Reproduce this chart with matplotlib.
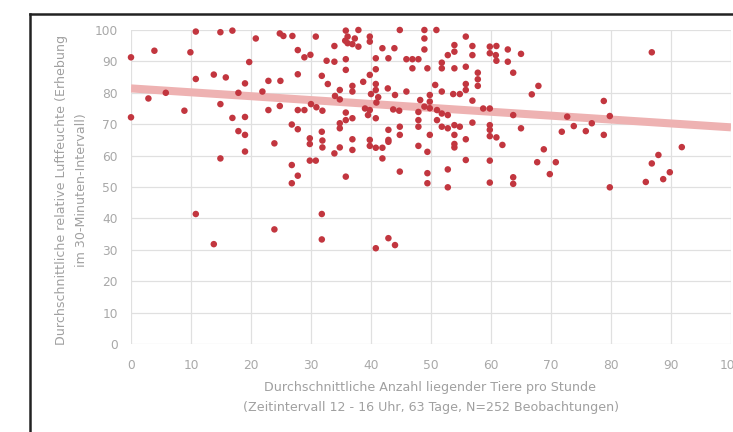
import matplotlib
matplotlib.use("Agg")
import matplotlib.pyplot as plt
from matplotlib.lines import Line2D

# ---- data ----
animals = [
    10.8, 14.9, 16.9, 3.9, 9.9, 0.0, 19.7, 10.8, 13.8, 15.8, 19.0, 2.9, 5.8, 17.9, 8.9, 14.9, 0.0,
    16.9, 19.0, 17.9, 19.0, 19.0, 14.9, 10.8, 13.8,
    20.8, 24.8, 25.4, 26.9, 30.8, 27.8, 28.9, 29.9, 32.6,
    22.9, 24.9, 27.8, 31.8, 32.8,
    21.9, 22.9, 24.8, 27.8, 28.9, 30.0, 30.9, 31.9,
    26.8, 27.8, 31.8, 29.8, 29.8, 31.9, 31.9, 23.9,
    29.8, 30.8, 26.8, 27.8, 26.8, 31.8, 23.9, 31.8,
    35.8, 37.9, 44.8, 48.9,
    36.1, 37.3, 36.1, 36.9, 37.9, 35.7,
    39.8, 39.8, 33.9, 41.9, 43.9, 48.9, 48.9,
    33.9, 35.8, 35.8, 40.8, 42.9, 45.9, 46.9, 47.9, 46.9, 49.4,
    40.8, 39.8, 38.7,
    36.9, 36.9, 40.8, 40.8, 42.8, 44.0, 45.9,
    34.8, 34.0, 34.8, 40.0, 41.2, 40.9, 48.2, 48.9,
    39.0, 39.8, 39.5, 40.8, 43.7, 44.7,
    35.8, 36.9, 35.8, 34.8, 34.8,
    47.9, 47.9, 47.9, 44.8, 44.8, 42.9, 42.9,
    36.9, 36.9,
    39.8, 39.8, 40.8, 41.9, 42.9,
    34.8, 33.9, 47.9, 41.9, 49.4, 44.8, 35.8, 49.4, 49.4,
    42.9, 44.0, 40.8,
    50.9, 55.8,
    53.9, 53.9, 52.8, 56.9, 56.9,
    59.8, 60.9, 62.8, 65.0, 59.8, 60.9, 62.8, 63.7, 60.8,
    51.8, 51.8, 53.9, 55.8,
    57.8, 57.8, 57.8, 50.7, 51.8,
    55.8, 55.8, 54.8, 53.7,
    49.8, 49.8, 49.8, 56.9,
    51.0, 51.8, 52.8, 58.7, 59.8, 63.7,
    51.0, 51.8, 52.8, 53.9, 54.8, 56.9, 59.8, 59.8, 65.0,
    49.8, 53.9, 53.9, 53.9, 55.8, 59.8, 60.9, 61.9,
    55.8, 59.8, 52.8, 52.8, 59.8, 63.7, 63.7,
    67.9, 66.8, 72.7, 73.8, 71.8, 75.8, 76.8, 78.8, 79.8, 78.8,
    68.8, 67.7, 70.8, 69.8, 79.8, 86.8, 91.8, 87.9, 86.8, 89.8, 88.7, 85.8,
]
humidity = [
    99.5, 99.3, 99.8, 93.4, 92.9, 91.3, 89.8, 84.4, 85.8, 84.9, 83.0, 78.2, 80.0, 80.0, 74.3, 76.4, 72.2,
    72.0, 72.3, 67.8, 66.6, 61.3, 59.1, 41.4, 31.8,
    97.3, 98.9, 98.1, 98.1, 97.9, 93.6, 91.3, 92.1, 90.2,
    83.8, 83.8, 85.9, 85.4, 82.8,
    80.4, 74.5, 75.8, 74.5, 74.5, 76.4, 75.4, 74.3,
    69.9, 68.4, 67.6, 65.5, 63.7, 64.8, 62.6, 63.9,
    58.4, 58.4, 57.0, 53.6, 51.2, 41.4, 36.5, 33.3,
    99.8, 100.0, 100.0, 100.0,
    97.9, 97.3, 95.8, 95.5, 94.7, 96.6,
    97.9, 96.3, 94.9, 94.2, 94.2, 97.3, 93.8,
    89.9, 90.7, 87.3, 91.0, 91.0, 90.7, 90.7, 90.7, 87.8, 87.8,
    87.5, 85.7, 83.5,
    82.2, 80.4, 82.8, 80.9, 81.4, 79.3, 80.4,
    80.9, 79.0, 77.9, 79.6, 78.6, 76.9, 77.7, 75.6,
    75.0, 74.5, 72.9, 71.9, 74.7, 74.3,
    73.7, 71.9, 71.3, 70.3, 68.7,
    73.9, 71.3, 69.2, 69.2, 66.6, 68.2, 65.0,
    65.2, 61.8,
    65.0, 63.1, 62.5, 62.5, 64.4,
    62.6, 60.7, 63.1, 59.1, 61.2, 54.9, 53.3, 54.4, 51.2,
    33.7, 31.5, 30.5,
    100.0, 97.9,
    95.2, 93.1, 92.0, 94.9, 92.0,
    94.7, 94.9, 93.8, 92.4, 92.6, 90.2, 89.9, 86.4, 92.0,
    89.6, 87.8, 87.8, 88.3,
    86.4, 84.3, 82.2, 82.5, 80.4,
    82.8, 80.9, 79.6, 79.6,
    79.3, 77.2, 75.1, 77.5,
    74.5, 73.4, 72.9, 75.0, 75.0, 72.9,
    71.3, 69.2, 68.7, 69.7, 69.2, 70.5, 69.7, 68.2, 68.7,
    66.6, 66.6, 63.7, 62.6, 65.2, 66.2, 65.8, 63.4,
    58.6, 58.4, 55.6, 49.9, 51.4, 53.1, 51.0,
    82.2, 79.5, 72.4, 69.4, 67.6, 67.8, 70.3, 77.4, 72.6, 66.6,
    62.0, 57.9, 57.9, 54.1, 49.9, 92.9, 62.7, 60.2, 57.5, 54.7, 52.5, 51.6,
]
trend_x = [0, 100]
trend_y = [81.4, 69.0]
x_ticks = [0, 10, 20, 30, 40, 50, 60, 70, 80, 90, 100]
y_ticks = [0, 10, 20, 30, 40, 50, 60, 70, 80, 90, 100]
xlabel_lines = ["Durchschnittliche Anzahl liegender Tiere pro Stunde",
                "(Zeitintervall 12 - 16 Uhr, 63 Tage, N=252 Beobachtungen)"]
ylabel_lines = ["Durchschnittliche relative Luftfeuchte (Erhebung",
                "im 30-Minuten-Intervall)"]

W, H = 733, 432
fig = plt.figure(figsize=(W / 100, H / 100), dpi=100)
fig.patch.set_facecolor("white")

ax = fig.add_axes([131 / W, (H - 344) / H, 600 / W, 314 / H])
ax.set_xlim(0, 100)
ax.set_ylim(0, 100)
ax.set_xticks(x_ticks)
ax.set_yticks(y_ticks)
ax.grid(True, color="#e0e0e0", lw=0.9)
ax.set_axisbelow(True)
for s in ax.spines.values():
    s.set_visible(False)
ax.tick_params(length=0, labelsize=8.8, labelcolor="#a8a8a8")
ax.tick_params(axis="x", pad=10.5)
ax.tick_params(axis="y", pad=9.5)

ax.plot(trend_x, trend_y, color="#eeb2b2", lw=5.8, solid_capstyle="butt", zorder=2)
ax.scatter(animals, humidity, s=22, color="#c2363f", edgecolors="none", zorder=3, clip_on=False)

txtc = "#a0a0a0"
fs = 9.1
fig.text(430 / W, 1 - 388 / H, xlabel_lines[0], ha="center", va="center", fontsize=fs, color=txtc)
fig.text(431 / W, 1 - 408 / H, xlabel_lines[1], ha="center", va="center", fontsize=fs, color=txtc)
fig.text(62 / W, 1 - 190 / H, ylabel_lines[0], ha="center", va="center", rotation=90, fontsize=fs, color=txtc)
fig.text(81 / W, 1 - 190 / H, ylabel_lines[1], ha="center", va="center", rotation=90, fontsize=fs, color=txtc)

# outer frame (left and top edges visible)
fig.add_artist(Line2D([29.5 / W, 29.5 / W], [0, 1 - 13.5 / H], transform=fig.transFigure, color="#222222", lw=1.8))
fig.add_artist(Line2D([29.5 / W, 1], [1 - 13.5 / H, 1 - 13.5 / H], transform=fig.transFigure, color="#222222", lw=1.8))

fig.savefig("out.png", dpi=100)
